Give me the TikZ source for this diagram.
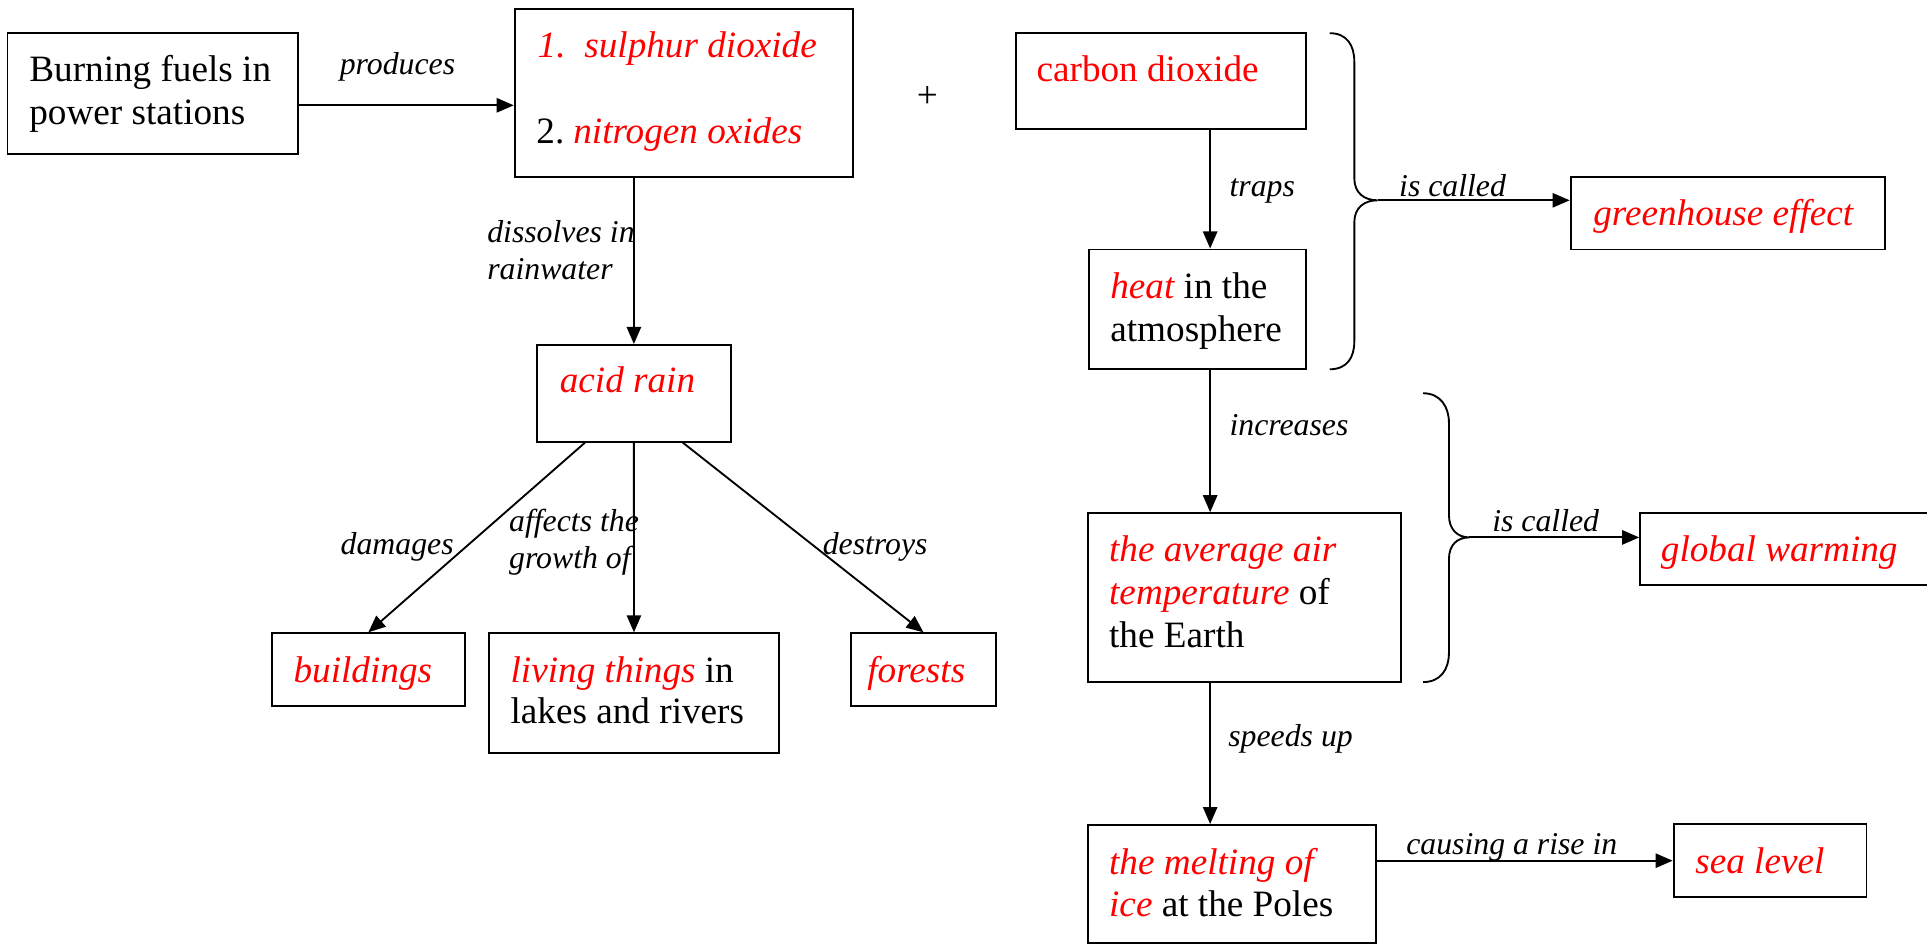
\documentclass[tikz,border=0pt]{standalone}
\usepackage{fontspec}
\setmainfont{Liberation Serif}
\usetikzlibrary{arrows.meta,fit,calc}
\newcommand\rit[1]{\textcolor{red}{\itshape #1}}
\begin{document}
\begin{tikzpicture}[x=0.3965pt,y=-0.3965pt,
  box/.style={draw, line width=0.6pt, inner sep=0pt, fit={#1}},
  txt/.style={anchor=base west, inner sep=0pt, yshift=-1pt, font=\fontsize{12}{14}\selectfont},
  lbl/.style={anchor=base west, inner sep=0pt, yshift=-1pt, font=\fontsize{10.25}{12}\selectfont\itshape},
  arr/.style={line width=0.6pt, -{Triangle[length=5.5pt,width=4.6pt]}},
  brace/.style={line width=0.6pt}]
\useasboundingbox (0,0) rectangle (1568,770);
% boxes
\node[box={(6.1,26.9) (242.3,125)}] (A) {};
\node[box={(418.8,7.6) (694,144.3)}] (B) {};
\node[box={(437,280.7) (594.6,359.4)}] (C) {};
\node[box={(827,27) (1063,105)}] (D) {};
\node[box={(886,203) (1063,300.5)}] (E) {};
\node[box={(1278,144) (1534,203)}] (F) {};
\node[box={(885,417.6) (1139.7,555)}] (G) {};
\node[box={(1334.6,417.6) (1585,476.3)}] (H) {};
\node[box={(885,671.3) (1119.6,767.6)}] (I) {};
\node[box={(1361.8,670.8) (1518.8,729.9)}] (J) {};
\node[box={(221,515.3) (378.4,574.2)}] (K) {};
\node[box={(398,515.3) (633.7,613)}] (L) {};
\node[box={(692.5,515.3) (810.4,574.2)}] (M) {};
% box texts
\node[txt] (a1) at (23.4,63.5) {Burning fuels in};
\node[txt] (a2) at (23.4,99) {power stations};
\node[txt] (b1n) at (437,44) {\rit{1.}};
\node[txt] (b1) at (475,44) {\rit{sulphur dioxide}};
\node[txt] (b2n) at (436,114) {2.};
\node[txt] (b2) at (466,114) {\rit{nitrogen oxides}};
\node[txt] (c1) at (455,317) {\rit{acid rain}};
\node[txt] (plus) at (745.5,85) {+};
\node[txt] (d1) at (843,64) {\textcolor{red}{carbon dioxide}};
\node[txt] (e1) at (903,240) {\rit{heat} in the};
\node[txt] (e2) at (903,275) {atmosphere};
\node[txt] (f1) at (1296,181) {\rit{greenhouse effect}};
\node[txt] (g1) at (902,454.5) {\rit{the average air}};
\node[txt] (g2) at (902,489.5) {\rit{temperature} of};
\node[txt] (g3) at (902,524.5) {the Earth};
\node[txt] (h1) at (1351,454) {\rit{global warming}};
\node[txt] (i1) at (902,708.7) {\rit{the melting of}};
\node[txt] (i2) at (902,743) {\rit{ice} at the Poles};
\node[txt] (j1) at (1379,708) {\rit{sea level}};
\node[txt] (k1) at (238.4,552.5) {\rit{buildings}};
\node[txt] (l1) at (415,552.5) {\rit{living things} in};
\node[txt] (l2) at (415,586) {lakes and rivers};
\node[txt] (m1) at (705.3,552.5) {\rit{forests}};
% connector labels
\node[lbl] (lp) at (276,58.5) {produces};
\node[lbl] (ld1) at (396,195) {dissolves in};
\node[lbl] (ld2) at (396,225) {rainwater};
\node[lbl] (lt) at (1000,157) {traps};
\node[lbl] (lc1) at (1138,157) {is called};
\node[lbl] (li) at (1000,351.6) {increases};
\node[lbl] (lc2) at (1213.8,430) {is called};
\node[lbl] (ls) at (999,605) {speeds up};
\node[lbl] (lr) at (1143.8,693) {causing a rise in};
\node[lbl] (ldm) at (276.7,449) {damages};
\node[lbl] (la1) at (413.8,430) {affects the};
\node[lbl] (la2) at (413.8,459.7) {growth of};
\node[lbl] (lde) at (669,449) {destroys};
% helper coordinates
\coordinate (ab) at (0,85.7);
\coordinate (spine) at (984.7,0);
\coordinate (t1) at (1121,163);
\coordinate (t2) at (1195.7,437.3);
% connectors
\draw[arr] (A.east |- ab) -- (B.west |- ab);
\draw[arr] (B.south -| C.north) -- (C.north);
\draw[arr] ($(C.south west)!0.25!(C.south east)$) -- (K.north);
\draw[arr] (C.south) -- (L.north);
\draw[arr] ($(C.south west)!0.75!(C.south east)$) -- (M.north);
\draw[arr] (D.south -| spine) -- (E.north -| spine);
\draw[arr] (E.south -| spine) -- (G.north -| spine);
\draw[arr] (G.south -| spine) -- (I.north -| spine);
\draw[arr] (I.east |- J.west) -- (J.west);
\draw[arr] (t1) -- (t1 -| F.west);
\draw[arr] (t2) -- (t2 -| H.west);
% braces
\draw[brace] (1082,27) .. controls (1096,27) and (1102,37) .. (1102,50)
  -- (1102,145) .. controls (1102,157) and (1110,163) .. (t1)
  .. controls (1110,163) and (1102,169) .. (1102,181)
  -- (1102,278) .. controls (1102,291) and (1096,300.5) .. (1082,300.5);
\draw[brace] (1158,320) .. controls (1172,320) and (1179,331) .. (1179,344)
  -- (1179,419) .. controls (1179,431) and (1186,437.3) .. (t2)
  .. controls (1186,437.3) and (1179,443) .. (1179,455)
  -- (1179,531) .. controls (1179,545) and (1172,555) .. (1158,555);
\end{tikzpicture}
\end{document}
